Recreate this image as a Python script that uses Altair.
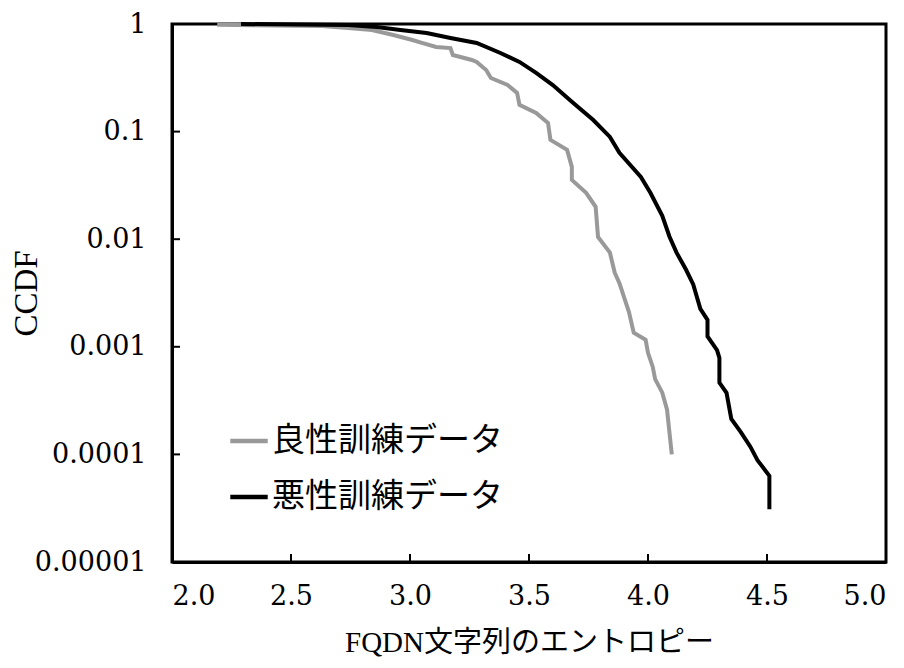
import altair as alt
import pandas as pd

# Benign training data (gray)
benign_x = [2.19, 2.63, 2.74, 2.84, 2.93, 3.01, 3.05, 3.11, 3.17, 3.18, 3.26, 3.28, 3.32, 3.34,
            3.41, 3.45, 3.46, 3.53, 3.58, 3.59, 3.66, 3.68, 3.68, 3.74, 3.78, 3.79, 3.84, 3.86,
            3.88, 3.92, 3.94, 3.99, 4.00, 4.02, 4.03, 4.06, 4.08, 4.10]
benign_y = [0.985, 0.957, 0.918, 0.88, 0.79, 0.71, 0.667, 0.611, 0.598, 0.515, 0.463, 0.444, 0.374,
            0.315, 0.271, 0.229, 0.177, 0.149, 0.12, 0.0838, 0.0676, 0.047, 0.0356, 0.027, 0.02,
            0.0105, 0.0075, 0.0049, 0.0039, 0.0021, 0.00135, 0.00116, 0.00088, 0.00065, 0.0005,
            0.000375, 0.00026, 0.0001]

# Malicious training data (black)
malicious_x = [2.29, 2.74, 2.86, 2.96, 3.07, 3.17, 3.28, 3.38, 3.46, 3.53, 3.60, 3.68, 3.77, 3.84,
               3.88, 3.97, 4.01, 4.06, 4.09, 4.12, 4.16, 4.19, 4.22, 4.25, 4.25, 4.29, 4.30, 4.30,
               4.33, 4.35, 4.39, 4.43, 4.46, 4.51, 4.51]
malicious_y = [1.0, 0.98, 0.938, 0.88, 0.825, 0.742, 0.666, 0.538, 0.444, 0.351, 0.271, 0.189, 0.128,
               0.0893, 0.0635, 0.0379, 0.027, 0.0165, 0.0106, 0.0075, 0.0052, 0.0038, 0.00225,
               0.00178, 0.00125, 0.00093, 0.00079, 0.000465, 0.000373, 0.000214, 0.000161,
               0.000118, 0.0000885, 0.0000631, 0.000031]

series_names = ["良性訓練データ", "悪性訓練データ"]
series_colors = ["#999999", "#000000"]

x_ticks = [2.0, 2.5, 3.0, 3.5, 4.0, 4.5, 5.0]
y_ticks = [1, 0.1, 0.01, 0.001, 0.0001, 0.00001]
x_inner_ticks = [2.5, 3.0, 3.5, 4.0, 4.5]
y_inner_ticks = [0.1, 0.01, 0.001, 0.0001]

rows = []
for i, (x, y) in enumerate(zip(benign_x, benign_y)):
    rows.append({"x": x, "y": y, "series": series_names[0], "order": i})
for i, (x, y) in enumerate(zip(malicious_x, malicious_y)):
    rows.append({"x": x, "y": y, "series": series_names[1], "order": i})
df = pd.DataFrame(rows)

NUMFONT = "DejaVu Serif"
FONT = "Liberation Serif, Noto Sans CJK JP"
W, H = 714, 538

xscale = alt.Scale(domain=[2.0, 5.0], nice=False, zero=False)
yscale = alt.Scale(type="log", domain=[0.00001, 1], nice=False)

xaxis = alt.Axis(values=x_ticks, format=".1f", title="FQDN文字列のエントロピー")
yaxis = alt.Axis(values=y_ticks, labelExpr="format(datum.value, '.5~f')", title="CCDF",
                 titleX=-146, titleY=H / 2, titleAngle=-90, titleAlign="center",
                 titleBaseline="middle", titleAnchor="middle")

lines = alt.Chart(df).mark_line(strokeWidth=4, interpolate="linear").encode(
    x=alt.X("x:Q", scale=xscale, axis=xaxis),
    y=alt.Y("y:Q", scale=yscale, axis=yaxis),
    color=alt.Color("series:N", scale=alt.Scale(domain=series_names, range=series_colors),
                    legend=alt.Legend(title=None, orient="none", legendX=56, legendY=396,
                                      symbolType="stroke", symbolStrokeWidth=4.5, symbolSize=1400,
                                      labelFont=FONT, labelFontSize=33, labelColor="black",
                                      labelOffset=2, rowPadding=18, labelLimit=500)),
    order="order:Q",
)

xt = alt.Chart(pd.DataFrame({"x": x_inner_ticks})).mark_rule(color="black", strokeWidth=2).encode(
    x=alt.X("x:Q", scale=xscale, axis=xaxis), y=alt.value(H), y2=alt.value(H - 8))
yt = alt.Chart(pd.DataFrame({"y": y_inner_ticks})).mark_rule(color="black", strokeWidth=2).encode(
    y=alt.Y("y:Q", scale=yscale, axis=yaxis), x=alt.value(0), x2=alt.value(8))

chart = alt.layer(lines, xt, yt).properties(
    width=W, height=H,
    background="white",
    autosize=alt.AutoSizeParams(type="none"),
    padding={"left": 164, "top": 16, "right": 10, "bottom": 98},
).configure_view(
    stroke="black", strokeWidth=3
).configure_axis(
    grid=False, ticks=False, domainColor="black", domainWidth=3,
    labelFont=NUMFONT, labelFontSize=27, labelColor="black",
    titleFont=FONT, titleFontWeight="normal", titleColor="black",
).configure_axisX(
    labelPadding=21, titleFontSize=29, titlePadding=19,
).configure_axisY(
    labelPadding=26, titleFontSize=33,
)

chart.save("out.html", embed_options={"renderer": "svg", "actions": False})
